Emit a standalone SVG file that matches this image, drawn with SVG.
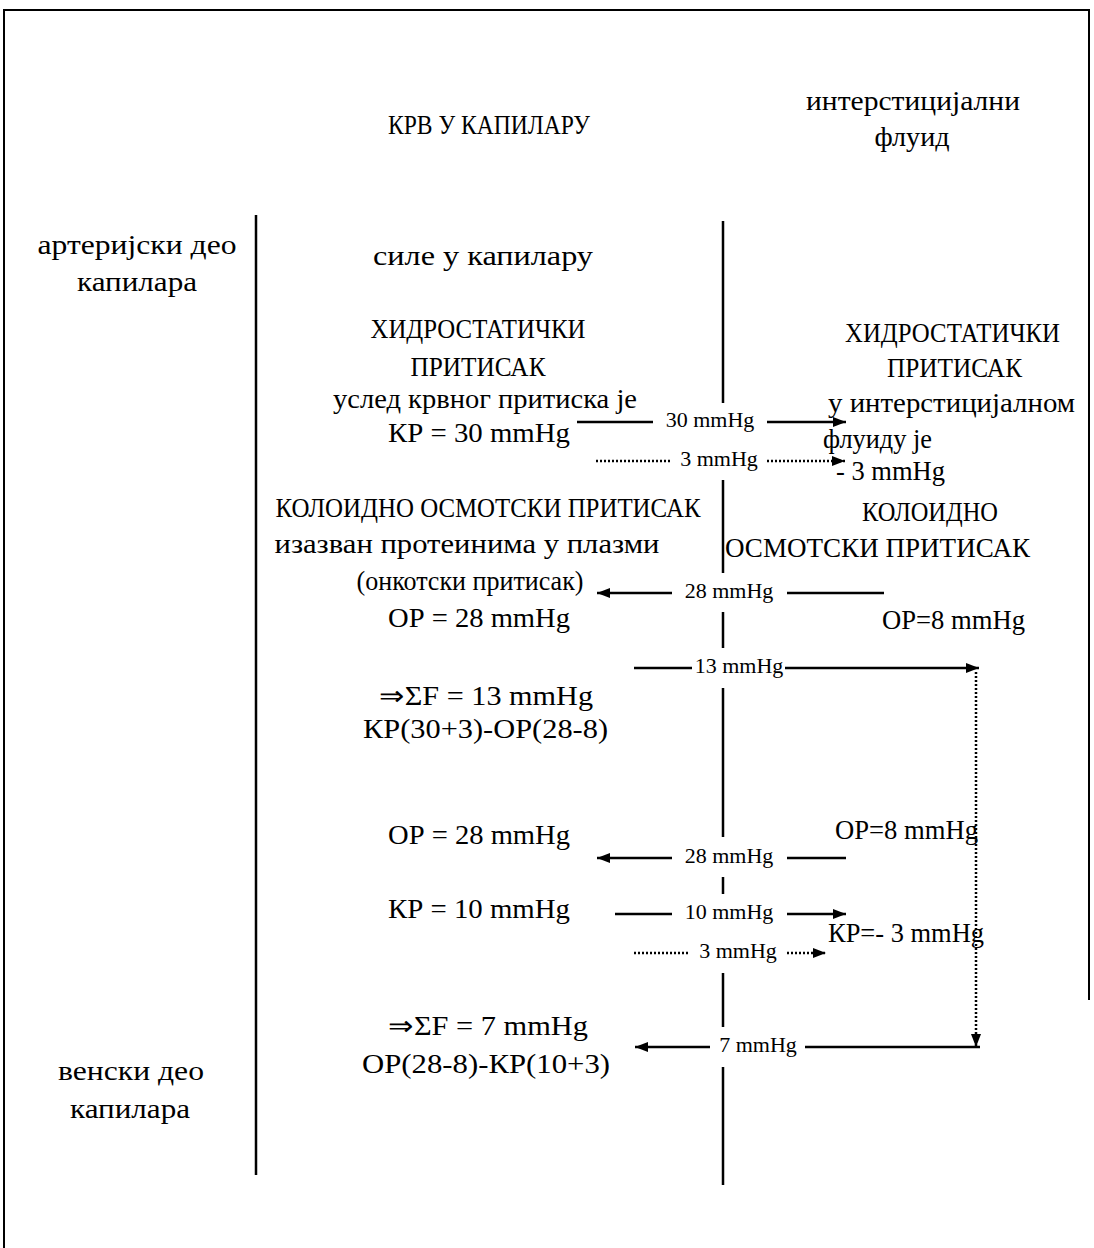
<svg xmlns="http://www.w3.org/2000/svg" width="1094" height="1248" viewBox="0 0 1094 1248">
<style>
  text { font-family: "Liberation Serif", "Times New Roman", serif; fill: #000; font-size: 27px; }
  .t { text-anchor: middle; }
  .lbl { font-size: 22px; text-anchor: middle; }
  .ln { stroke: #000; stroke-width: 2.5; fill: none; }
  .dot { stroke: #000; stroke-width: 2.5; stroke-dasharray: 2 2; fill: none; }
  .frame { stroke: #000; stroke-width: 2; fill: none; }
</style>
<defs>
  <marker id="ah" markerUnits="userSpaceOnUse" markerWidth="13" markerHeight="10" refX="13" refY="5" orient="auto">
    <path d="M0,0 L13,5 L0,10 z" fill="#000"/>
  </marker>
</defs>
<rect width="1094" height="1248" fill="#fff"/>
<g id="frame">
  <path class="frame" d="M4,1248 V10 H1089 V1000"/>
  <line class="ln" x1="256" y1="215" x2="256" y2="1175"/>
  <path class="ln" d="M723,221 V403 M723,480 V573 M723,612 V648 M723,688 V837 M723,877 V894 M723,973 V1027 M723,1067 V1185"/>
</g>
<g id="headers">
  <text class="t" x="489" y="134" textLength="202" lengthAdjust="spacingAndGlyphs">КРВ У КАПИЛАРУ</text>
  <text class="t" x="913" y="110" textLength="214" lengthAdjust="spacingAndGlyphs">интерстицијални</text>
  <text class="t" x="912" y="146" textLength="75" lengthAdjust="spacingAndGlyphs">флуид</text>
</g>
<g id="arterial-label">
  <text class="t" x="137" y="254" textLength="199" lengthAdjust="spacingAndGlyphs">артеријски део</text>
  <text class="t" x="137" y="291" textLength="120" lengthAdjust="spacingAndGlyphs">капилара</text>
</g>
<g id="venous-label">
  <text class="t" x="131" y="1080" textLength="146" lengthAdjust="spacingAndGlyphs">венски део</text>
  <text class="t" x="130" y="1118" textLength="120" lengthAdjust="spacingAndGlyphs">капилара</text>
</g>
<g id="forces-title">
  <text class="t" x="483" y="265" textLength="220" lengthAdjust="spacingAndGlyphs">силе у капилару</text>
</g>
<g id="hydro-blood">
  <text class="t" x="478" y="338" textLength="215" lengthAdjust="spacingAndGlyphs">ХИДРОСТАТИЧКИ</text>
  <text class="t" x="478" y="376" textLength="135" lengthAdjust="spacingAndGlyphs">ПРИТИСАК</text>
  <text class="t" x="485" y="408" textLength="304" lengthAdjust="spacingAndGlyphs">услед крвног притиска је</text>
  <text class="t" x="479" y="442" textLength="182" lengthAdjust="spacingAndGlyphs">КР = 30 mmHg</text>
</g>
<g id="hydro-interstitial">
  <text x="845" y="342" textLength="215" lengthAdjust="spacingAndGlyphs">ХИДРОСТАТИЧКИ</text>
  <text x="887" y="377" textLength="135" lengthAdjust="spacingAndGlyphs">ПРИТИСАК</text>
  <text x="828" y="412" textLength="247" lengthAdjust="spacingAndGlyphs">у интерстицијалном</text>
  <text x="823" y="448" textLength="109" lengthAdjust="spacingAndGlyphs">флуиду је</text>
  <text x="836" y="480" textLength="109" lengthAdjust="spacingAndGlyphs">- 3 mmHg</text>
</g>
<g id="colloid-blood">
  <text class="t" x="488" y="517" textLength="425" lengthAdjust="spacingAndGlyphs">КОЛОИДНО ОСМОТСКИ ПРИТИСАК</text>
  <text class="t" x="467" y="553" textLength="385" lengthAdjust="spacingAndGlyphs">изазван протеинима у плазми</text>
  <text class="t" x="470" y="590" textLength="227" lengthAdjust="spacingAndGlyphs">(онкотски притисак)</text>
  <text class="t" x="479" y="627" textLength="182" lengthAdjust="spacingAndGlyphs">ОР = 28 mmHg</text>
</g>
<g id="colloid-interstitial">
  <text class="t" x="930" y="521" textLength="136" lengthAdjust="spacingAndGlyphs">КОЛОИДНО</text>
  <text x="725" y="557" textLength="305" lengthAdjust="spacingAndGlyphs">ОСМОТСКИ ПРИТИСАК</text>
  <text x="882" y="629" textLength="143" lengthAdjust="spacingAndGlyphs">ОР=8 mmHg</text>
</g>
<g id="sum-arterial">
  <text x="379" y="705" textLength="214" lengthAdjust="spacingAndGlyphs">⇒ΣF = 13 mmHg</text>
  <text x="363" y="738" textLength="245" lengthAdjust="spacingAndGlyphs">КР(30+3)-ОР(28-8)</text>
</g>
<g id="venous-blood">
  <text class="t" x="479" y="844" textLength="182" lengthAdjust="spacingAndGlyphs">ОР = 28 mmHg</text>
  <text class="t" x="479" y="918" textLength="182" lengthAdjust="spacingAndGlyphs">КР = 10 mmHg</text>
</g>
<g id="venous-interstitial">
  <text x="835" y="839" textLength="143" lengthAdjust="spacingAndGlyphs">ОР=8 mmHg</text>
  <text x="828" y="942" textLength="156" lengthAdjust="spacingAndGlyphs">КР=- 3 mmHg</text>
</g>
<g id="sum-venous">
  <text x="388" y="1035" textLength="200" lengthAdjust="spacingAndGlyphs">⇒ΣF = 7 mmHg</text>
  <text x="362" y="1073" textLength="248" lengthAdjust="spacingAndGlyphs">ОР(28-8)-КР(10+3)</text>
</g>
<g id="connectors">
  <line class="ln" x1="577" y1="422" x2="653" y2="422"/>
  <line class="ln" x1="767" y1="422" x2="846" y2="422" marker-end="url(#ah)"/>
  <text class="lbl" x="710" y="427">30 mmHg</text>
  <line class="dot" x1="596" y1="461" x2="670" y2="461"/>
  <line class="dot" x1="767" y1="461" x2="845" y2="461" marker-end="url(#ah)"/>
  <text class="lbl" x="719" y="466">3 mmHg</text>
  <line class="ln" x1="672" y1="593" x2="597" y2="593" marker-end="url(#ah)"/>
  <line class="ln" x1="787" y1="593" x2="884" y2="593"/>
  <text class="lbl" x="729" y="598">28 mmHg</text>
  <line class="ln" x1="634" y1="668" x2="692" y2="668"/>
  <line class="ln" x1="785" y1="668" x2="979" y2="668" marker-end="url(#ah)"/>
  <text class="lbl" x="739" y="673">13 mmHg</text>
  <line class="dot" x1="976" y1="672" x2="976" y2="1047" marker-end="url(#ah)"/>
  <line class="ln" x1="672" y1="858" x2="597" y2="858" marker-end="url(#ah)"/>
  <line class="ln" x1="787" y1="858" x2="846" y2="858"/>
  <text class="lbl" x="729" y="863">28 mmHg</text>
  <line class="ln" x1="615" y1="914" x2="672" y2="914"/>
  <line class="ln" x1="787" y1="914" x2="846" y2="914" marker-end="url(#ah)"/>
  <text class="lbl" x="729" y="919">10 mmHg</text>
  <line class="dot" x1="634" y1="953" x2="690" y2="953"/>
  <line class="dot" x1="787" y1="953" x2="826" y2="953" marker-end="url(#ah)"/>
  <text class="lbl" x="738" y="958">3 mmHg</text>
  <line class="ln" x1="710" y1="1047" x2="635" y2="1047" marker-end="url(#ah)"/>
  <line class="ln" x1="805" y1="1047" x2="980" y2="1047"/>
  <text class="lbl" x="758" y="1052">7 mmHg</text>
</g>
</svg>
